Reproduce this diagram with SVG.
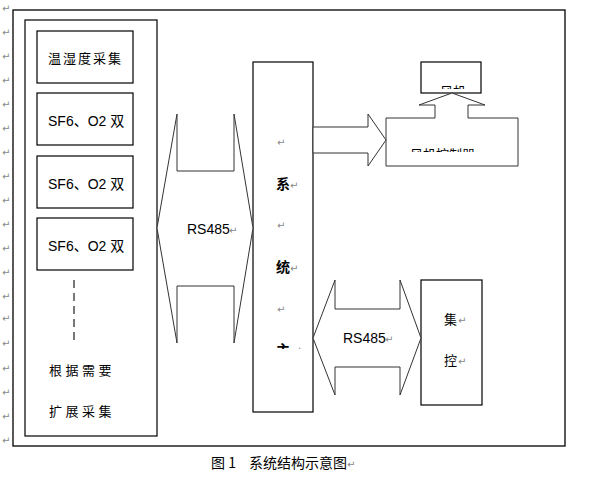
<svg xmlns="http://www.w3.org/2000/svg" width="602" height="482" viewBox="0 0 602 482">
<style>
.box{fill:#fff;stroke:#000;stroke-width:1.2}
.arr{fill:#fff;stroke:#333;stroke-width:1}
.t{font-family:"Liberation Sans","Noto Sans CJK SC",sans-serif;font-size:14px;fill:#000}
.c{font-family:"Noto Sans CJK SC","Liberation Sans",sans-serif;font-size:13px;fill:#000}
.cap{font-family:"Noto Sans CJK SC","Liberation Sans",sans-serif;font-size:14px;fill:#000}
.rm{font-family:"DejaVu Sans",sans-serif;font-size:10px;fill:#888}
</style>
<defs>
<clipPath id="cpFan"><rect x="421" y="62" width="60" height="27"/></clipPath>
<clipPath id="cpCtl"><rect x="386" y="118" width="132" height="34"/></clipPath>
<clipPath id="cpMain"><rect x="253" y="300" width="60" height="49"/></clipPath>
</defs>
<rect width="602" height="482" fill="#fff"/>
<g id="returnMarks">
<text class="rm" x="2" y="12">↵</text><text class="rm" x="2" y="36">↵</text><text class="rm" x="2" y="60">↵</text><text class="rm" x="2" y="84">↵</text><text class="rm" x="2" y="108">↵</text><text class="rm" x="2" y="132">↵</text><text class="rm" x="2" y="156">↵</text><text class="rm" x="2" y="180">↵</text><text class="rm" x="2" y="204">↵</text><text class="rm" x="2" y="228">↵</text><text class="rm" x="2" y="252">↵</text><text class="rm" x="2" y="276">↵</text><text class="rm" x="2" y="300">↵</text><text class="rm" x="2" y="322">↵</text><text class="rm" x="2" y="347">↵</text><text class="rm" x="2" y="372">↵</text><text class="rm" x="2" y="396">↵</text><text class="rm" x="2" y="420">↵</text><text class="rm" x="2" y="444">↵</text>
</g>
<rect id="frame" x="13" y="10" width="552" height="436" fill="none" stroke="#000" stroke-width="1.3"/>
<g id="collect">
<rect class="box" x="25" y="20" width="132" height="416"/>
<g id="n1"><rect class="box" x="37" y="31" width="96" height="52"/><text class="c" x="48" y="63" letter-spacing="2">温湿度采集</text></g>
<g id="n2"><rect class="box" x="37" y="93" width="96" height="52"/><text class="t" x="48" y="126">SF6、O2 双</text></g>
<g id="n3"><rect class="box" x="37" y="156" width="96" height="52"/><text class="t" x="48" y="189">SF6、O2 双</text></g>
<g id="n4"><rect class="box" x="37" y="218" width="96" height="52"/><text class="t" x="48" y="251">SF6、O2 双</text></g>
<line x1="74" y1="280" x2="74" y2="343" stroke="#777" stroke-width="2" stroke-dasharray="8,5"/>
<text class="c" x="49" y="375" letter-spacing="3.5">根据需要</text>
<text class="c" x="49" y="416" letter-spacing="3.5">扩展采集</text>
</g>
<g id="main">
<rect class="box" x="253" y="62" width="60" height="350"/>
<text class="rm" x="277" y="146">↵</text>
<text class="t" x="276" y="189" font-weight="bold">系</text><text class="rm" x="290" y="189">↵</text>
<text class="rm" x="277" y="229">↵</text>
<text class="t" x="276" y="272" font-weight="bold">统</text><text class="rm" x="290" y="272">↵</text>
<text class="rm" x="277" y="313">↵</text>
<g clip-path="url(#cpMain)"><text class="t" x="276" y="355" font-weight="bold">主</text></g>
<text class="rm" x="298" y="349">.</text>
</g>
<g id="fan">
<rect class="box" x="421" y="62" width="60" height="31"/>
<g clip-path="url(#cpFan)"><text class="c" x="440" y="96">风机</text></g>
</g>
<g id="controller">
<polygon class="arr" points="386,118 435,118 435,105 419,105 452,93 485,105 468,105 468,118 518,118 518,166 386,166"/>
<g clip-path="url(#cpCtl)"><text class="c" x="410" y="159">风机控制器</text></g>
</g>
<g id="jikong">
<rect class="box" x="421" y="280" width="61" height="125"/>
<text class="c" x="444" y="324">集</text><text class="rm" x="458" y="324">↵</text>
<text class="c" x="444" y="365">控</text><text class="rm" x="458" y="365">↵</text>
</g>
<g id="connectors">
<polygon class="arr" points="157,228 177,114 177,171 234,171 234,114 253,228 234,343 234,286 177,286 177,343"/>
<text class="t" x="187" y="234">RS485</text><text class="rm" x="229" y="234">↵</text>
<polygon class="arr" points="313,127 368,127 368,114 386,140 368,166 368,153 313,153"/>
<polygon class="arr" points="313,338 335,280 335,309 400,309 400,280 421,338 400,395 400,367 335,367 335,395"/>
<text class="t" x="343" y="343">RS485</text><text class="rm" x="385" y="343">↵</text>
</g>
<g id="caption">
<text class="cap" x="211" y="468">图 1</text>
<text class="cap" x="249" y="468">系统结构示意图</text><text class="rm" x="347" y="468">↵</text>
</g>
</svg>
